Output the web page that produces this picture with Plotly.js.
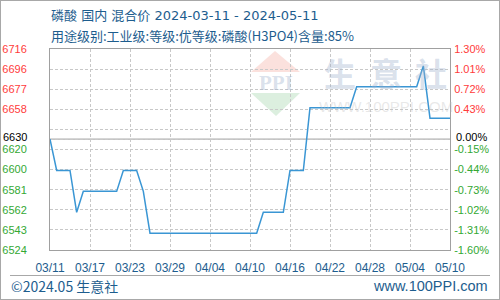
<!DOCTYPE html>
<html>
<head>
<meta charset="utf-8">
<script src="https://cdn.plot.ly/plotly-3.0.1.min.js"></script>
<style>
html,body{margin:0;padding:0;background:#fff;}
#wrap{position:relative;width:500px;height:300px;}
#chart{width:500px;height:300px;}
#frame{position:absolute;left:0;top:0;width:500px;height:300px;box-sizing:border-box;border:1px solid #a8a8a8;pointer-events:none;}
</style>
</head>
<body>
<div id="wrap"><div id="chart"></div><div id="frame"></div></div>
<script>
// ---- data ----
var startDate = '2024-03-11';
var prices = [
  6630, 6600, 6600, 6600, 6560, 6580, 6580, 6580, 6580, 6580,
  6580, 6600, 6600, 6600, 6580, 6540, 6540, 6540, 6540, 6540,
  6540, 6540, 6540, 6540, 6540, 6540, 6540, 6540, 6540, 6540,
  6540, 6540, 6560, 6560, 6560, 6560, 6600, 6600, 6600, 6660,
  6660, 6660, 6660, 6660, 6660, 6660, 6680, 6680, 6680, 6680,
  6680, 6680, 6680, 6680, 6680, 6680, 6700, 6650, 6650, 6650,
  6650
];
var basePrice = 6630;
var tickPct = [1.30, 1.01, 0.72, 0.43, 0.14, 0.00, -0.15, -0.44, -0.73, -1.02, -1.31, -1.60];
var leftTickLabels = ['6716', '6696', '6677', '6658', '', '6630', '6620', '6600', '6581', '6562', '6543', '6524'];
var rightTickLabels = ['1.30%', '1.01%', '0.72%', '0.43%', '', '0.00%', '-0.15%', '-0.44%', '-0.73%', '-1.02%', '-1.31%', '-1.60%'];
var xTickLabels = ['03/11', '03/17', '03/23', '03/29', '04/04', '04/10', '04/16', '04/22', '04/28', '05/04', '05/10'];
var titleLine1 = '磷酸 国内 混合价 2024-03-11 - 2024-05-11';
var titleLine2 = '用途级别:工业级:等级:优等级:磷酸(H3PO4)含量:85%';
var footerLeft = '©2024.05 生意社';
var footerRight = 'www.100PPI.com';

// ---- build ----
function pad(n){return (n<10?'0':'')+n;}
var dates = [];
var d0 = new Date(startDate + 'T00:00:00Z');
for (var i = 0; i < prices.length; i++) {
  var d = new Date(d0.getTime() + i * 86400000);
  dates.push(d.getUTCFullYear() + '-' + pad(d.getUTCMonth() + 1) + '-' + pad(d.getUTCDate()));
}
var xTickVals = xTickLabels.map(function(l){ return '2024-' + l.replace('/', '-'); });
var yTickVals = tickPct.map(function(p){ return basePrice * (1 + p / 100); });
function colorFor(p){ return p > 0 ? '#ff3b3b' : (p < 0 ? '#33a833' : '#000000'); }
function spanText(labels){
  return labels.map(function(t, i){
    if (!t || tickPct[i] === 0) return '';
    return '<span style="color:' + colorFor(tickPct[i]) + '">' + t + '</span>';
  });
}
var leftText = spanText(leftTickLabels);
var rightText = spanText(rightTickLabels);
var baseIdx = tickPct.indexOf(0);
var yRange = [yTickVals[yTickVals.length - 1], yTickVals[0]];

var W = 400, H = 201, L = 50, T = 49;
function px(x){ return (x - L) / W; }
function py(y){ return (T + H - y) / H; }

var traces = [
  {x: dates, y: prices, type: 'scatter', mode: 'lines', line: {color: '#3a96d4', width: 1.5}, hoverinfo: 'skip', yaxis: 'y'},
  {x: dates, y: prices, type: 'scatter', mode: 'lines', line: {color: 'rgba(0,0,0,0)', width: 0}, hoverinfo: 'skip', yaxis: 'y2', showlegend: false}
];

var tickFont = {family: 'Liberation Sans, Arial, sans-serif', size: 11};
var blue = '#1d5d8e';
var wm = 'rgba(160,178,205,0.4)';

var layout = {
  width: 500, height: 300, autosize: false,
  margin: {l: L, r: 50, t: T, b: 50, pad: 0},
  paper_bgcolor: '#ffffff', plot_bgcolor: 'rgba(0,0,0,0)',
  showlegend: false,
  xaxis: {
    type: 'date', range: [dates[0], dates[dates.length - 1]],
    tickmode: 'array', tickvals: xTickVals, ticktext: xTickLabels,
    tickfont: {family: 'Liberation Sans, Arial, sans-serif', size: 12, color: blue},
    ticks: 'outside', ticklen: 7, tickcolor: 'rgba(0,0,0,0)',
    showgrid: true, gridcolor: '#c8c8c8', griddash: '3px,2px', gridwidth: 1,
    showline: true, linecolor: '#a0a0a0', linewidth: 1, mirror: true, zeroline: false, fixedrange: true
  },
  yaxis: {
    range: yRange, tickmode: 'array', tickvals: yTickVals, ticktext: leftText,
    tickfont: tickFont, ticks: 'outside', ticklen: 20, tickcolor: 'rgba(0,0,0,0)',
    showgrid: true, gridcolor: '#c8c8c8', griddash: '3px,2px', gridwidth: 1,
    showline: true, linecolor: '#a0a0a0', linewidth: 1, mirror: true, zeroline: false, fixedrange: true
  },
  yaxis2: {
    range: yRange, overlaying: 'y', side: 'right', tickmode: 'array', tickvals: yTickVals, ticktext: rightText,
    tickfont: tickFont, ticks: 'outside', ticklen: 1, tickcolor: 'rgba(0,0,0,0)',
    showgrid: false, showline: false, zeroline: false, fixedrange: true
  },
  shapes: [
    {type: 'line', xref: 'paper', yref: 'y', x0: 0, x1: 1, y0: basePrice, y1: basePrice, line: {color: '#9a9a9a', width: 1}, layer: 'below'},
    {type: 'path', xref: 'paper', yref: 'paper', layer: 'below', line: {width: 0},
     fillcolor: '#fbe1dd', path: 'M ' + px(275) + ' ' + py(51) + ' L ' + px(251) + ' ' + py(72) + ' L ' + px(300) + ' ' + py(72) + ' Z'},
    {type: 'path', xref: 'paper', yref: 'paper', layer: 'below', line: {width: 0},
     fillcolor: '#dcefdf', path: 'M ' + px(251) + ' ' + py(93) + ' L ' + px(300) + ' ' + py(93) + ' L ' + px(276) + ' ' + py(116) + ' Z'},
    {type: 'line', xref: 'paper', yref: 'paper', x0: px(10), x1: px(490), y0: py(275.5), y1: py(275.5), line: {color: '#a8a8a8', width: 1}}
  ],
  annotations: [
    {text: titleLine1, xref: 'paper', yref: 'paper', x: px(49), y: py(16), xanchor: 'left', yanchor: 'middle', showarrow: false,
     font: {family: 'DejaVu Sans, Noto Sans CJK SC, sans-serif', size: 13, color: blue}},
    {text: titleLine2, xref: 'paper', yref: 'paper', x: px(49), y: py(36), xanchor: 'left', yanchor: 'middle', showarrow: false,
     font: {family: 'Noto Sans CJK SC, sans-serif', size: 13, color: blue}},
    {text: footerLeft, xref: 'paper', yref: 'paper', x: px(9), y: py(286), xanchor: 'left', yanchor: 'middle', showarrow: false,
     font: {family: 'Noto Sans CJK SC, sans-serif', size: 14, color: blue}},
    {text: footerRight, xref: 'paper', yref: 'paper', x: px(490), y: py(286), xanchor: 'right', yanchor: 'middle', showarrow: false,
     font: {family: 'Liberation Sans, Arial, sans-serif', size: 14.5, color: blue}},
    {text: leftTickLabels[baseIdx], xref: 'paper', yref: 'y', x: px(28.5), y: basePrice, yshift: 2, xanchor: 'right', yanchor: 'middle', showarrow: false,
     font: {family: 'Liberation Sans, Arial, sans-serif', size: 11, color: colorFor(0)}},
    {text: rightTickLabels[baseIdx], xref: 'paper', yref: 'y', x: px(454), y: basePrice, yshift: 2, xanchor: 'left', yanchor: 'middle', showarrow: false,
     font: {family: 'Liberation Sans, Arial, sans-serif', size: 11, color: colorFor(0)}},
    {text: '<b>PPI</b>', xref: 'paper', yref: 'paper', x: px(276), y: py(83), xanchor: 'center', yanchor: 'middle', showarrow: false,
     font: {family: 'Liberation Serif, serif', size: 21, color: wm}},
    {text: '<b>生</b>', xref: 'paper', yref: 'paper', x: px(340), y: py(72), xanchor: 'center', yanchor: 'middle', showarrow: false,
     font: {family: 'Noto Sans CJK SC, sans-serif', size: 32, color: wm}},
    {text: '<b>意</b>', xref: 'paper', yref: 'paper', x: px(386), y: py(72), xanchor: 'center', yanchor: 'middle', showarrow: false,
     font: {family: 'Noto Sans CJK SC, sans-serif', size: 32, color: wm}},
    {text: '<b>社</b>', xref: 'paper', yref: 'paper', x: px(431), y: py(72), xanchor: 'center', yanchor: 'middle', showarrow: false,
     font: {family: 'Noto Sans CJK SC, sans-serif', size: 32, color: wm}},
    {text: 'WWW.100PPI.COM', xref: 'paper', yref: 'paper', x: px(386), y: py(106), xanchor: 'center', yanchor: 'middle', showarrow: false,
     font: {family: 'Liberation Sans, Arial, sans-serif', size: 15, color: 'rgba(190,190,190,0.35)'}}
  ]
};

Plotly.newPlot('chart', traces, layout, {staticPlot: true, displayModeBar: false});
</script>
</body>
</html>
